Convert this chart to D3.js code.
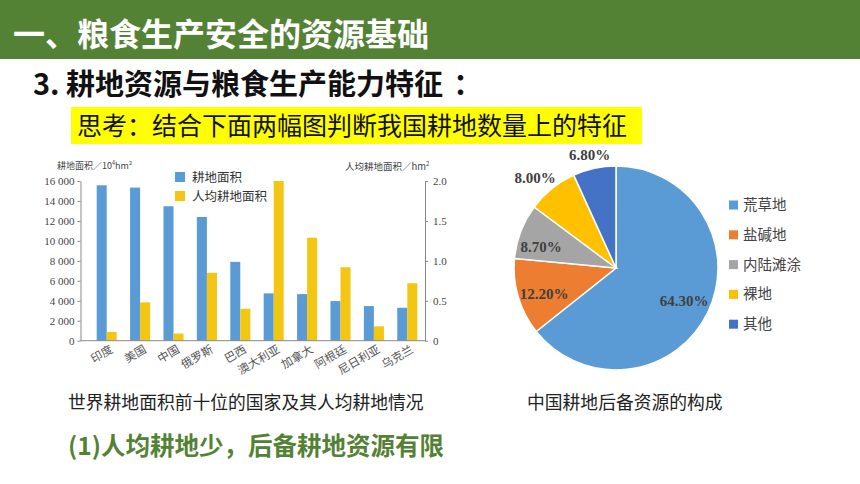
<!DOCTYPE html>
<html>
<head>
<meta charset="utf-8">
<script src="https://cdn.jsdelivr.net/npm/d3@7"></script>
<style>
  body { margin:0; background:#fff; }
  svg text { font-family: "Noto Sans CJK SC", "Noto Sans", sans-serif; }
</style>
</head>
<body>
<svg id="page" width="860" height="484"></svg>
<script>
// 柱状图数据
const countries = ['印度','美国','中国','俄罗斯','巴西','澳大利亚','加拿大','阿根廷','尼日利亚','乌克兰'];
const areaValues = [15570, 15340, 13470, 12400, 7900, 4740, 4670, 3970, 3470, 3300];
const perCapita = [0.11, 0.48, 0.09, 0.85, 0.40, 2.0, 1.29, 0.92, 0.18, 0.72];
const leftTicks = [0, 2000, 4000, 6000, 8000, 10000, 12000, 14000, 16000];
const rightTicks = [0, 0.5, 1.0, 1.5, 2.0];

// 饼图数据
const pieNames = ['荒草地','盐碱地','内陆滩涂','裸地','其他'];
const pieValues = [64.3, 12.2, 8.7, 8.0, 6.8];
const pieColors = ['#5b9bd5','#ed7d31','#a5a5a5','#ffc000','#4472c4'];

const svg = d3.select('#page');
const green = '#548235';

// 标题栏
svg.append('rect').attr('x',0).attr('y',0).attr('width',860).attr('height',59).attr('fill',green);
svg.append('text').attr('x',13).attr('y',46).text('一、粮食生产安全的资源基础')
  .style('font-size','32px').style('font-weight','bold').attr('fill','#fff');

const sub = svg.append('text').attr('x',33).attr('y',95)
  .style('font-size','29px').style('font-weight','bold').attr('fill','#111');
sub.append('tspan').text('3. 耕地资源与粮食生产能力特征');
sub.append('tspan').attr('dx',10).text('：');

svg.append('rect').attr('x',71).attr('y',107).attr('width',571).attr('height',37).attr('fill','#ffff00');
svg.append('text').attr('x',77).attr('y',135).text('思考：结合下面两幅图判断我国耕地数量上的特征')
  .style('font-size','25px').attr('fill','#111');

svg.append('text').attr('x',68).attr('y',409).text('世界耕地面积前十位的国家及其人均耕地情况')
  .style('font-size','17.8px').attr('fill','#222');
svg.append('text').attr('x',527).attr('y',409).text('中国耕地后备资源的构成')
  .style('font-size','17.8px').attr('fill','#222');
svg.append('text').attr('x',68).attr('y',455).text('(1)人均耕地少，后备耕地资源有限')
  .style('font-size','24.5px').style('font-weight','bold').attr('fill',green);

// ---- 柱状图 ----
const plotTop = 181, plotBottom = 340.7, plotLeft = 80.5, plotRight = 425;
const x = d3.scaleBand().domain(countries).range([90, 424]).paddingInner(0.4).paddingOuter(0.2);
const yL = d3.scaleLinear().domain([0,16000]).range([plotBottom, plotTop]);
const yR = d3.scaleLinear().domain([0,2]).range([plotBottom, plotTop]);
const bw = x.bandwidth()/2;

const chart = svg.append('g');
chart.selectAll('.area').data(countries).enter().append('rect')
  .attr('x', d => x(d)).attr('width', bw)
  .attr('y', (d,i) => yL(areaValues[i])).attr('height', (d,i) => plotBottom - yL(areaValues[i]))
  .attr('fill','#5b9bd5');
chart.selectAll('.per').data(countries).enter().append('rect')
  .attr('x', d => x(d) + bw).attr('width', bw)
  .attr('y', (d,i) => yR(perCapita[i])).attr('height', (d,i) => plotBottom - yR(perCapita[i]))
  .attr('fill','#f3c613');

const axL = chart.append('g').attr('transform',`translate(${plotLeft},0)`)
  .call(d3.axisLeft(yL).tickValues(leftTicks).tickSize(3).tickSizeOuter(0)
    .tickFormat(d => d3.format(',')(d).replace(',', ' ')));
const axR = chart.append('g').attr('transform',`translate(${plotRight},0)`)
  .call(d3.axisRight(yR).tickValues(rightTicks).tickSize(3).tickSizeOuter(0)
    .tickFormat(d => d === 0 ? '0' : d3.format('.1f')(d)));
[axL, axR].forEach(a => {
  a.select('.domain').attr('stroke','#888');
  a.selectAll('.tick line').attr('stroke','#888');
  a.selectAll('.tick text').style('font-family','"Liberation Serif", serif')
    .style('font-size','11px').attr('fill','#444');
});
axR.selectAll('.tick text').attr('x', 8);

// x 轴
chart.append('line').attr('x1',plotLeft).attr('x2',plotRight).attr('y1',plotBottom).attr('y2',plotBottom).attr('stroke','#888');
chart.selectAll('.xlab').data(countries).enter().append('text')
  .attr('transform', d => `translate(${x(d) + x.bandwidth()/2 + 7},${plotBottom + 11}) rotate(-30)`)
  .attr('text-anchor','end').text(d => d)
  .style('font-size','11.5px').attr('fill','#555');

chart.append('text').attr('x',57).attr('y',169)
  .style('font-size','9px').attr('fill','#444')
  .html('耕地面积／10<tspan dy="-4" style="font-size:5.5px">4</tspan><tspan dy="4">hm</tspan><tspan dy="-4" style="font-size:5.5px">2</tspan>');
chart.append('text').attr('x',345).attr('y',170)
  .style('font-size','9.5px').attr('fill','#444')
  .html('人均耕地面积／hm<tspan dy="-4" style="font-size:6px">2</tspan>');

const lg = chart.append('g');
[['耕地面积','#5b9bd5'],['人均耕地面积','#f3c613']].forEach((d,i) => {
  lg.append('rect').attr('x',175).attr('y',172 + i*19).attr('width',10).attr('height',10).attr('fill',d[1]);
  lg.append('text').attr('x',192).attr('y',181.5 + i*19).text(d[0]).style('font-size','12.5px').attr('fill','#333');
});

// ---- 饼图 ----
const cx = 616, cy = 268, r = 102;
const pie = d3.pie().sort(null).value(d => d)(pieValues);
const arc = d3.arc().innerRadius(0).outerRadius(r);
const pg = svg.append('g').attr('transform',`translate(${cx},${cy})`);
pg.selectAll('path').data(pie).enter().append('path')
  .attr('d', arc).attr('fill',(d,i) => pieColors[i]).attr('stroke','#fff').attr('stroke-width',1.5);

const labelPos = [[684,300.5],[544,294],[541,247],[535,178],[589.5,155]];
svg.selectAll('.plab').data(pieValues).enter().append('text')
  .attr('x',(d,i) => labelPos[i][0]).attr('y',(d,i) => labelPos[i][1] + 5)
  .attr('text-anchor','middle').text(d => d3.format('.2f')(d) + '%')
  .style('font-family','"Liberation Serif", serif').style('font-weight','bold')
  .style('font-size','15px').attr('fill','#404040');

pieNames.forEach((n,i) => {
  const yy = 205 + i*29.8;
  svg.append('rect').attr('x',729).attr('y',yy - 4.5).attr('width',9).attr('height',9).attr('fill',pieColors[i]);
  svg.append('text').attr('x',743).attr('y',yy + 5).text(n).style('font-size','14.5px').attr('fill','#444');
});
</script>
</body>
</html>
